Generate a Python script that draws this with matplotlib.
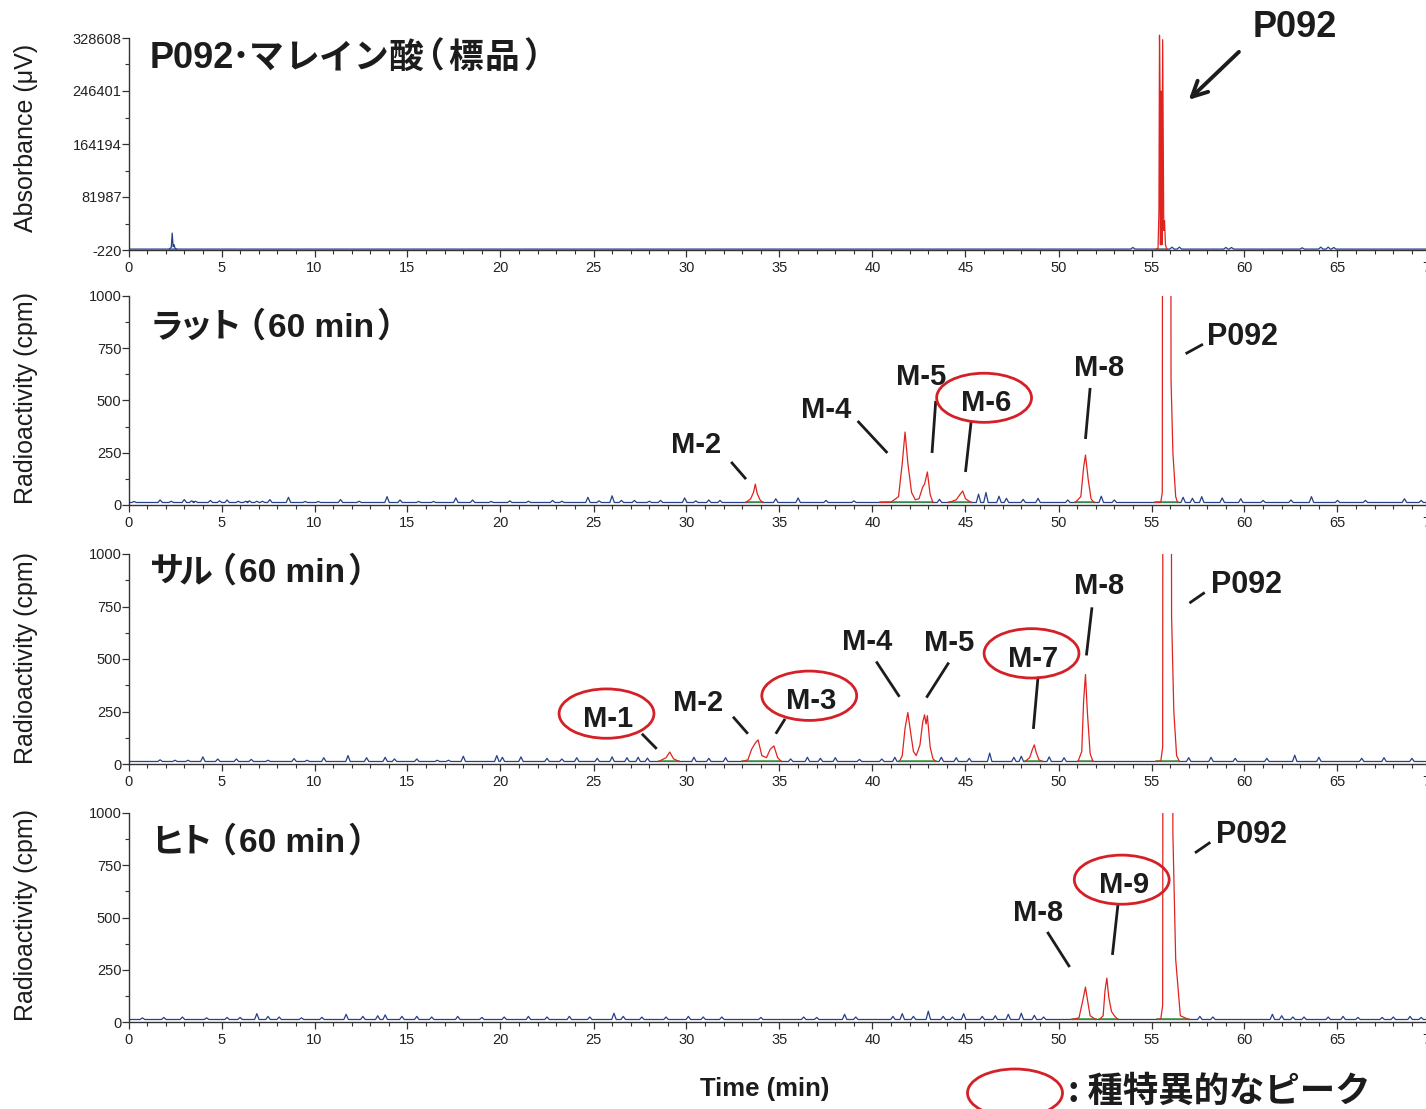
import matplotlib
matplotlib.use("Agg")
import matplotlib.pyplot as plt
from matplotlib import font_manager
from matplotlib.patches import Ellipse
from matplotlib.ticker import MultipleLocator
import numpy as np

plt.rcParams['axes.unicode_minus'] = False

_installed = {f.name for f in font_manager.fontManager.ttflist}
TICK_FONT = 'Liberation Sans Narrow' if 'Liberation Sans Narrow' in _installed else 'Liberation Sans'
JP = ['Noto Sans CJK JP', 'DejaVu Sans']
LAT = ['Liberation Sans', 'DejaVu Sans']

BLUE = '#27408b'
RED = '#e0231f'
GREEN = '#3c9a3c'
INK = '#1c1c1c'

# ---- axis ticks ----
time_ticks = list(range(0, 75, 5))
std_yticks = [-220, 81987, 164194, 246401, 328608]
cpm_yticks = [0, 250, 500, 750, 1000]

# ---- UV trace of the reference standard (uV) ----
std_base = 1200
std_front_t = [2.20, 2.30, 2.35, 2.40, 2.45, 2.50, 2.58]
std_front_v = [1200, 4000, 26000, 5000, 8000, 2500, 1200]
std_spikes = [(54.0, 2500), (56.1, 3000), (56.5, 3000), (59.0, 2500), (59.3, 2500),
              (63.1, 2000), (64.1, 3000), (64.5, 3000), (64.8, 2500)]
std_p092_t = [55.25, 55.35, 55.40, 55.43, 55.46, 55.48, 55.50, 55.52, 55.54,
              55.56, 55.60, 55.66, 55.70, 55.75, 55.82]
std_p092_v = [1200, 2000, 60000, 333000, 246000, 8000, 246000, 8000, 246000,
              8000, 326000, 30000, 45000, 8000, 1200]

# ---- radio traces (cpm) ----
rat_base = 12
rat_spikes = [(0.3, 5), (1.7, 12), (2.3, 6), (3.0, 14), (3.4, 8), (3.6, 6), (4.4, 10),
              (4.9, 8), (5.3, 12), (5.9, 6), (6.3, 6), (6.5, 8), (6.9, 6), (7.2, 6),
              (7.6, 14), (8.6, 25), (9.5, 5), (10.2, 5), (11.4, 14), (12.4, 6), (13.9, 28),
              (14.6, 12), (15.6, 5), (16.4, 5), (17.6, 22), (18.5, 12), (19.5, 5),
              (20.5, 8), (21.5, 6), (22.8, 10), (23.3, 6), (24.7, 25), (25.3, 8), (26.0, 32),
              (26.5, 10), (27.2, 10), (28.0, 6), (28.6, 10), (29.9, 22), (30.5, 8),
              (31.2, 12), (31.8, 10), (34.8, 18), (36.0, 22), (37.5, 10), (39.0, 8),
              (43.6, 15), (45.7, 40), (46.1, 48), (46.8, 30), (47.2, 20), (48.1, 15),
              (48.9, 20), (50.5, 12), (52.3, 30), (53.0, 12), (56.7, 25), (57.2, 20),
              (57.7, 28), (58.8, 22), (59.8, 18), (61.0, 10), (62.5, 12), (63.6, 28),
              (65.0, 10), (66.5, 10), (68.6, 18), (69.5, 10)]
rat_peaks = {
    'M-2': ([33.2, 33.45, 33.6, 33.7, 33.8, 33.95, 34.1],
            [12, 30, 60, 100, 55, 25, 12]),
    'M-4/M-5': ([40.4, 41.0, 41.4, 41.6, 41.75, 41.9, 42.1, 42.3, 42.5, 42.7, 42.8,
                 42.95, 43.1, 43.25],
                [12, 14, 40, 200, 349, 200, 60, 25, 30, 86, 100, 158, 50, 12]),
    'M-6': ([44.1, 44.5, 44.7, 44.85, 45.0, 45.3], [12, 25, 50, 67, 30, 12]),
    'M-8': ([50.9, 51.2, 51.35, 51.45, 51.6, 51.75, 51.9],
            [12, 40, 180, 239, 120, 30, 12]),
    'P092': ([55.2, 55.5, 55.58, 55.62, 56.0, 56.05, 56.15, 56.3, 56.4],
             [12, 14, 60, 5000, 5000, 600, 250, 40, 12]),
}

monkey_base = 12
monkey_spikes = [(1.7, 8), (2.5, 6), (3.2, 6), (4.0, 22), (4.8, 12), (5.8, 12), (6.6, 10),
                 (7.5, 6), (8.9, 14), (9.6, 6), (10.5, 18), (11.8, 28), (12.8, 18),
                 (13.8, 20), (14.3, 12), (15.5, 12), (16.6, 6), (17.2, 6), (18.0, 25),
                 (19.8, 28), (20.1, 20), (21.1, 22), (22.5, 15), (23.3, 12), (24.1, 18),
                 (25.2, 15), (26.0, 22), (26.8, 18), (27.4, 20), (27.9, 16), (30.4, 20),
                 (31.2, 15), (32.1, 18), (35.6, 12), (36.5, 20), (37.2, 15), (38.0, 18),
                 (39.3, 10), (40.5, 12), (41.2, 20), (43.7, 20), (44.5, 18), (45.2, 15),
                 (46.3, 40), (47.6, 20), (48.0, 25), (49.5, 22), (50.3, 18), (57.0, 18),
                 (58.2, 20), (59.5, 15), (61.2, 15), (62.7, 30), (64.0, 20), (66.3, 15),
                 (67.5, 18), (69.0, 15)]
monkey_peaks = {
    'M-1': ([28.5, 28.9, 29.1, 29.3, 29.6], [12, 30, 57, 25, 12]),
    'M-2/M-3': ([33.0, 33.3, 33.5, 33.7, 33.85, 34.05, 34.3, 34.5, 34.7, 34.9, 35.1],
                [12, 20, 70, 100, 115, 40, 30, 70, 86, 30, 12]),
    'M-4/M-5': ([41.45, 41.6, 41.75, 41.9, 42.05, 42.2, 42.35, 42.55, 42.7, 42.8, 42.88,
                 42.95, 43.1, 43.25, 43.4],
                [12, 40, 170, 245, 150, 60, 40, 90, 200, 234, 190, 230, 80, 25, 12]),
    'M-7': ([48.2, 48.45, 48.6, 48.7, 48.8, 48.95, 49.1], [12, 30, 70, 91, 55, 20, 12]),
    'M-8': ([51.05, 51.25, 51.35, 51.45, 51.55, 51.7, 51.85],
            [12, 60, 300, 426, 250, 50, 12]),
    'P092': ([55.25, 55.5, 55.6, 55.64, 56.0, 56.08, 56.2, 56.35, 56.5],
             [12, 14, 80, 5000, 5000, 700, 250, 40, 12]),
}

human_base = 12
human_spikes = [(0.75, 8), (1.9, 10), (2.9, 12), (4.2, 8), (5.3, 10), (6.0, 10), (6.9, 28),
                (7.5, 15), (8.1, 12), (9.3, 8), (10.4, 10), (11.7, 25), (12.6, 15), (13.4, 18),
                (13.8, 22), (14.7, 15), (15.5, 15), (16.3, 12), (17.7, 15), (19.0, 10),
                (20.2, 12), (21.5, 15), (22.5, 12), (23.7, 15), (24.8, 12), (26.1, 30),
                (26.6, 15), (27.6, 12), (28.9, 12), (30.1, 15), (30.9, 12), (31.9, 12),
                (34.0, 10), (36.3, 12), (37.0, 10), (38.5, 25), (39.1, 12), (41.1, 15),
                (41.6, 28), (42.2, 15), (43.0, 40), (43.8, 15), (44.3, 12), (44.9, 28),
                (45.9, 15), (46.6, 18), (47.3, 25), (48.0, 30), (48.7, 20), (49.2, 12),
                (57.6, 15), (58.3, 12), (61.5, 25), (62.0, 18), (62.6, 12), (63.2, 12),
                (64.5, 12), (65.3, 15), (66.1, 10), (67.4, 10), (68.0, 12), (68.9, 15),
                (69.5, 10)]
human_peaks = {
    'M-8': ([50.75, 51.1, 51.3, 51.45, 51.55, 51.7, 52.0], [12, 20, 100, 167, 110, 30, 12]),
    'M-9': ([52.2, 52.4, 52.5, 52.6, 52.7, 52.85, 53.0, 53.2],
            [12, 30, 150, 210, 120, 50, 30, 12]),
    'P092': ([55.3, 55.5, 55.6, 55.65, 56.07, 56.15, 56.3, 56.55, 57.0],
             [12, 14, 80, 5000, 5000, 900, 300, 30, 12]),
}

# panel titles, set piece by piece: (text, family, size, gap after in px)
title_runs = [
    [('P092', LAT, 26, -3), ('･', JP, 26, 0), ('マ', JP, 25, 0), ('レ', JP, 25, 0),
     ('イ', JP, 25, 0), ('ン', JP, 25, 0), ('酸', JP, 25, -13), ('（', JP, 25, 3),
     ('標', JP, 25, 2), ('品', JP, 25, 4), ('）', JP, 25, 0)],
    [('ラ', JP, 24.5, -5), ('ッ', JP, 24.5, -5), ('ト', JP, 24.5, -11), ('（', JP, 24.5, 3),
     ('60 min', LAT, 24, 2), ('）', JP, 24.5, 0)],
    [('サ', JP, 24.5, -5), ('ル', JP, 24.5, -11), ('（', JP, 24.5, 3),
     ('60 min', LAT, 24, 2), ('）', JP, 24.5, 0)],
    [('ヒ', JP, 24.5, -5), ('ト', JP, 24.5, -11), ('（', JP, 24.5, 3),
     ('60 min', LAT, 24, 2), ('）', JP, 24.5, 0)],
]
title_base = [68, 337, 582, 852]

# peak labels: text, text x/y, leader start, leader end, circled
rat_labels = [('M-2', 30.5, 287, (32.4, 206), (33.2, 124), False),
              ('M-4', 37.5, 455, (39.2, 402), (40.8, 249), False),
              ('M-5', 42.6, 612, (43.4, 498), (43.2, 249), False),
              ('M-6', 46.1, 488, (45.3, 397), (45.0, 158), True),
              ('M-8', 52.2, 655, (51.7, 560), (51.45, 316), False)]
monkey_labels = [('M-1', 25.8, 215, (27.6, 144), (28.4, 72), True),
                 ('M-2', 30.6, 292, (32.5, 225), (33.3, 144), False),
                 ('M-3', 36.7, 300, (35.3, 215), (34.8, 144), True),
                 ('M-4', 39.7, 582, (40.2, 488), (41.45, 320), False),
                 ('M-5', 44.1, 576, (44.1, 483), (42.9, 316), False),
                 ('M-7', 48.65, 502, (48.9, 416), (48.65, 167), True),
                 ('M-8', 52.2, 847, (51.8, 746), (51.5, 517), False)]
human_labels = [('M-8', 48.9, 522, (49.4, 431), (50.6, 263), False),
                ('M-9', 53.5, 656, (53.2, 565), (52.9, 321), True)]
p092_labels = [(59.9, 804, (56.9, 727), (57.7, 766)),
               (60.1, 852, (57.1, 770), (57.8, 813)),
               (60.4, 895, (57.4, 813), (58.1, 856))]


def noise_trace(base, spikes, half=0.12):
    t, v = [0.0], [base]
    for st, sh in sorted(spikes):
        t += [st - half, st, st + half]
        v += [base, base + sh, base]
    t.append(70.0)
    v.append(base)
    return t, v


W, H = 1426, 1109
fig = plt.figure(figsize=(W / 100, H / 100), dpi=100, facecolor='white')
renderer = fig.canvas.get_renderer()

# (top, bottom) of each plotting area in pixels
rows = [(38, 250), (296, 505), (554, 764), (813, 1022)]
x_left, x_right = 128.5, 128.5 + 70 * 18.6
axes = []
for top, bot in rows:
    ax = fig.add_axes([x_left / W, 1 - bot / H, (x_right - x_left) / W, (bot - top) / H])
    ax.set_facecolor('none')
    axes.append(ax)


def setup(ax, ylim, yticks, yminor):
    ax.set_xlim(0, 70)
    ax.set_ylim(*ylim)
    for side in ('top', 'right'):
        ax.spines[side].set_visible(False)
    for side in ('left', 'bottom'):
        ax.spines[side].set_linewidth(1.0)
        ax.spines[side].set_color('#333333')
    ax.set_xticks(time_ticks)
    ax.xaxis.set_minor_locator(MultipleLocator(1))
    ax.set_yticks(yticks)
    ax.set_yticklabels([str(y) for y in yticks])
    ax.set_yticks(yminor, minor=True)
    ax.tick_params(which='major', length=5, width=0.9, color='#333333', labelsize=10.5,
                   labelcolor='#222222')
    ax.tick_params(axis='y', which='major', pad=0)
    ax.tick_params(axis='x', which='major', pad=3)
    ax.tick_params(which='minor', length=3, width=0.8, color='#333333')
    for lab in ax.get_xticklabels() + ax.get_yticklabels():
        lab.set_fontfamily(TICK_FONT)


def draw_runs(x_px, base_px, runs):
    # each piece starts where the previous one's box ends, plus a kerning gap
    x = x_px
    for txt, fam, fs, gap in runs:
        t = fig.text(x / W, 1 - base_px / H, txt, fontsize=fs, fontweight='bold',
                     family=fam, color=INK, ha='left', va='baseline')
        x += t.get_window_extent(renderer).width + gap


std_mid = list((np.array(std_yticks[:-1]) + np.array(std_yticks[1:])) / 2)
setup(axes[0], (-220, 328608), std_yticks, std_mid)
for ax in axes[1:]:
    setup(ax, (0, 1000), cpm_yticks, [125, 375, 625, 875])

# standard: UV absorbance
ax = axes[0]
bt, bv = noise_trace(std_base, std_spikes)
ax.plot(bt, bv, color=BLUE, lw=0.9)
ax.plot(std_front_t, std_front_v, color=BLUE, lw=0.9)
ax.plot([std_p092_t[0], std_p092_t[-1]], [std_base, std_base], color=GREEN, lw=1.0)
ax.plot(std_p092_t, std_p092_v, color=RED, lw=0.9, clip_on=False)
ax.text(62.7, 344300, 'P092', fontsize=26, fontweight='bold', family=LAT, color=INK,
        ha='center', va='center')
ax.annotate('', xy=(57.0, 232700), xytext=(59.7, 307100),
            arrowprops=dict(arrowstyle='->,head_length=1.1,head_width=0.55',
                            lw=2.8, color=INK, shrinkA=0, shrinkB=0))

# radio chromatograms
radio = [(rat_base, rat_spikes, rat_peaks, rat_labels),
         (monkey_base, monkey_spikes, monkey_peaks, monkey_labels),
         (human_base, human_spikes, human_peaks, human_labels)]
for ax, (base, spikes, peaks, labels), plab in zip(axes[1:], radio, p092_labels):
    bt, bv = noise_trace(base, spikes)
    ax.plot(bt, bv, color=BLUE, lw=0.9)
    for pt, pv in peaks.values():
        ax.plot([pt[0], pt[-1]], [base, base], color=GREEN, lw=1.1, zorder=3)
        ax.plot(pt, pv, color=RED, lw=0.9, zorder=4)
    for name, tx, ty, p1, p2, circled in labels:
        ax.text(tx, ty, name, fontsize=21, fontweight='bold', family=LAT, color=INK,
                ha='center', va='center', zorder=6)
        ax.plot([p1[0], p2[0]], [p1[1], p2[1]], color=INK, lw=2.0, clip_on=False,
                solid_capstyle='butt')
        if circled:
            ax.add_patch(Ellipse((tx - 0.1, ty + 25), 5.1, 235, fill=False, edgecolor='#d42027',
                                 lw=2.0, clip_on=False, zorder=5))
    tx, ty, p1, p2 = plab
    ax.text(tx, ty, 'P092', fontsize=22, fontweight='bold', family=LAT, color=INK,
            ha='center', va='center')
    ax.plot([p1[0], p2[0]], [p1[1], p2[1]], color=INK, lw=2.0, clip_on=False)

# panel titles
for runs, yb in zip(title_runs, title_base):
    draw_runs(150, yb, runs)

# axis titles
ylab_y = [138, 398, 658, 915]
ylab_txt = ['Absorbance (μV)'] + ['Radioactivity (cpm)'] * 3
for txt, y in zip(ylab_txt, ylab_y):
    fig.text(26 / W, 1 - y / H, txt, fontsize=18, family=LAT, color=INK, rotation=90,
             ha='center', va='center')
fig.text(765 / W, 1 - 1089 / H, 'Time (min)', fontsize=18.5, fontweight='bold', family=LAT,
         color=INK, ha='center', va='center')

# key for circled peaks
fig.add_artist(Ellipse((1015 / W, 1 - 1093 / H), 95 / W, 48 / H, transform=fig.transFigure,
                       fill=False, edgecolor='#d42027', lw=2.0))
fig.text(1068 / W, 1 - 1091 / H, ': 種特異的なピーク', fontsize=25.5, fontweight='bold',
         family=JP, color=INK, ha='left', va='center')

fig.savefig('out.png', dpi=100, facecolor='white')
